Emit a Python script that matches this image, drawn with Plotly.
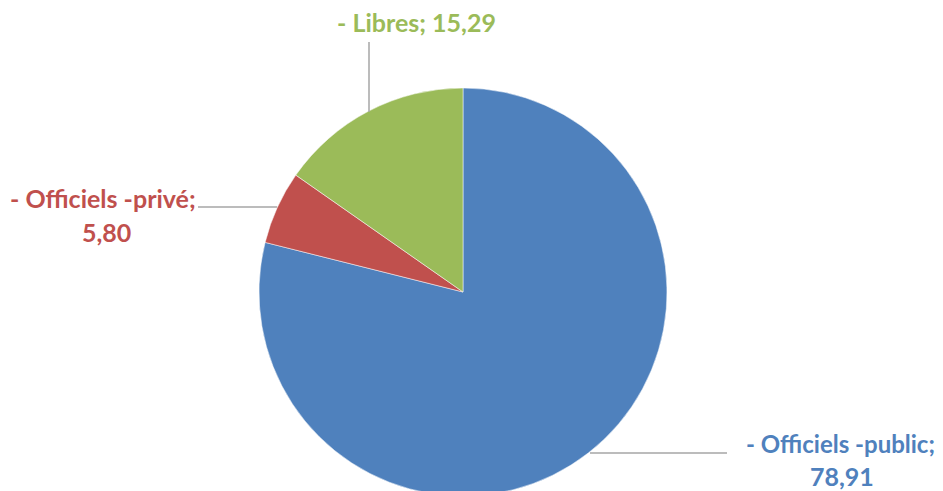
import plotly.graph_objects as go

labels = ["- Officiels -public", "- Officiels -privé", "- Libres"]
values = [78.91, 5.80, 15.29]
colors = ["#4F81BD", "#C0504D", "#9BBB59"]

W, H = 943, 491
FONT = "Lato"
OFF = 8  # page body margin offset

def fmt(v):
    return f"{v:.2f}".replace(".", ",")

def px(x):
    return (x - OFF) / W

def py(y):
    return 1 - (y - OFF) / H

# pie: centre (463, 292) on screen, radius 204
cx, cy, r = 463, 292, 204
fig = go.Figure(go.Pie(
    labels=labels, values=values, sort=False, direction="clockwise", rotation=0,
    marker=dict(colors=colors, line=dict(color="white", width=0.5)),
    textinfo="none", hoverinfo="label+value", showlegend=False,
    domain=dict(x=[px(cx - r), px(cx + r)], y=[py(cy + r), py(cy - r)]),
))

leader = [
    ((590, 453), (727, 453)),
    ((198, 207), (277, 207)),
    ((369, 42), (369, 112)),
]
for (x0, y0), (x1, y1) in leader:
    fig.add_shape(type="line", xref="paper", yref="paper",
                  x0=px(x0), y0=py(y0), x1=px(x1), y1=py(y1),
                  line=dict(color="#A6A6A6", width=1.5))

label_pos = [
    [(840, 443, f"{labels[0]};", 24), (842, 476, fmt(values[0]), 25)],
    [(103, 198, f"{labels[1]};", 25), (106, 232, fmt(values[1]), 25)],
    [(416, 22, f"{labels[2]}; {fmt(values[2])}", 25)],
]
for i, lines in enumerate(label_pos):
    for x, y, t, s in lines:
        fig.add_annotation(xref="paper", yref="paper", x=px(x), y=py(y),
                           text=f"<b>{t}</b>", showarrow=False,
                           xanchor="center", yanchor="middle",
                           font=dict(family=FONT, size=s, color=colors[i]))

fig.update_layout(width=W, height=H, margin=dict(l=0, r=0, t=0, b=0),
                  paper_bgcolor="white", plot_bgcolor="white")
fig.write_html("out.html")
